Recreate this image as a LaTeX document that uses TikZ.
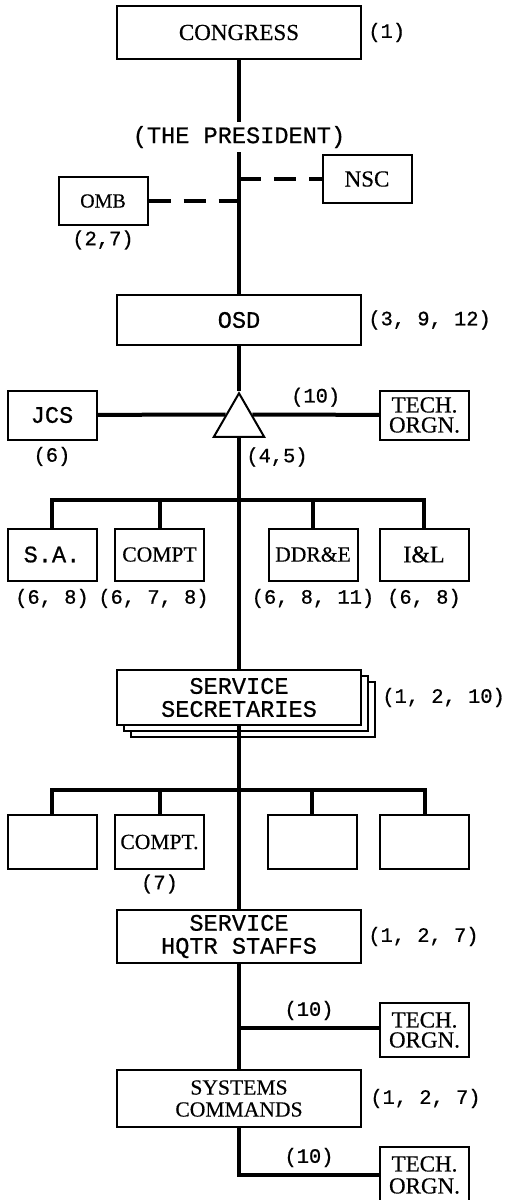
\documentclass[tikz,border=0pt]{standalone}
\usepackage{fontspec}
\setmainfont{Liberation Serif}[FakeBold=0.4]
\setmonofont{Liberation Mono}[FakeBold=0.7]
\usetikzlibrary{positioning,shapes.geometric,shadows}
\newcommand{\boxfont}{\fontsize{10.8}{11}\selectfont}
\newcommand{\typefont}{\ttfamily\fontsize{11.8}{11.5}\selectfont}
\newcommand{\numfont}{\ttfamily\fontsize{10.2}{12}\selectfont}

\begin{document}
\begin{tikzpicture}[
    x=0.5pt, y=-0.5pt,
    every node/.style={align=center},
    orgbox/.style={rectangle, draw, line width=1pt, fill=white, inner sep=0pt, minimum width=122pt, minimum height=26.5pt, font=\boxfont},
    smallbox/.style={rectangle, draw, line width=1pt, fill=white, inner sep=0pt, minimum width=44.5pt, minimum height=26pt, font=\boxfont},
    typed/.style={font=\typefont},
    num/.style={font=\numfont, inner sep=1pt},
    link/.style={line width=2pt},
    dashlink/.style={line width=2pt, dash pattern=on 11pt off 6.5pt}
]
\clip (0,0) rectangle (507,1200);

% Congress and the President
\node[orgbox, font=\fontsize{11.5}{12}\selectfont] (congress) at (239,32.5) {CONGRESS};
\node[num, right=2pt of congress] (congressnum) {(1)};
\node[typed, inner sep=2pt] (president) at (239,137) {(THE PRESIDENT)};

% Staff of the President
\node[smallbox, minimum height=24pt, font=\fontsize{10}{11}\selectfont] (omb) at (103,201) {OMB};
\node[num, below=1pt of omb] (ombnum) {(2,7)};
\node[smallbox, minimum height=24pt, font=\fontsize{11.5}{12}\selectfont] (nsc) at (367,179) {NSC};
\coordinate (nscjoin) at (239,179);
\coordinate (ombjoin) at (239,201);

% OSD
\node[orgbox, typed, minimum height=25pt] (osd) at (239,320) {OSD};
\node[num, right=2pt of osd] (osdnum) {(3, 9, 12)};

% JCS and the triangle
\node[regular polygon, regular polygon sides=3, draw, line width=1pt, minimum size=29pt, inner sep=0pt] (decide) at (239,422.25) {};
\node[smallbox, typed, minimum height=24.5pt] (jcs) at (52,415) {JCS};
\node[num, below=2pt of jcs] (jcsnum) {(6)};
\node[smallbox, font=\fontsize{11.5}{10}\selectfont, minimum height=24.5pt] (techa) at (424.5,415) {TECH.\\ORGN.};
\node[num] (decidenum) at (277,457) {(4,5)};

% OSD staff
\coordinate (busa) at (239,500);
\node[smallbox, typed] (sa) at (52,554.5) {S.A.};
\node[smallbox] (compta) at (159.5,554.5) {COMPT};
\node[smallbox] (ddre) at (313,554.5) {DDR\&E};
\node[smallbox, font=\fontsize{12}{12}\selectfont] (il) at (424,554.5) {I\&L};
\node[num, below=2.5pt of sa] (sanum) {(6, 8)};
\node[num, below=2.5pt of compta, xshift=-3pt] (comptanum) {(6, 7, 8)};
\node[num, below=2.5pt of ddre] (ddrenum) {(6, 8, 11)};
\node[num, below=2.5pt of il] (ilnum) {(6, 8)};

% Service Secretaries
\node[orgbox, typed, minimum height=27.5pt, double copy shadow={shadow xshift=3.5pt, shadow yshift=-3pt}] (ss) at (239,697.5) {SERVICE\\SECRETARIES};
\node[num, right=9pt of ss] (ssnum) {(1, 2, 10)};

% Service staff
\coordinate (busb) at (239,790);
\node[smallbox, minimum height=27pt] (svca) at (52,842) {};
\node[smallbox, minimum height=27pt] (svcompt) at (159.5,842) {COMPT.};
\node[smallbox, minimum height=27pt] (svcc) at (312,842) {};
\node[smallbox, minimum height=27pt] (svcd) at (424.5,842) {};
\node[num, below=1pt of svcompt] (svcomptnum) {(7)};

% Service HQ and Systems Commands
\node[orgbox, typed] (hqtr) at (239,936.5) {SERVICE\\HQTR STAFFS};
\node[num, right=2pt of hqtr] (hqtrnum) {(1, 2, 7)};
\coordinate (brancha) at (239,1028);
\node[smallbox, font=\fontsize{11.5}{10}\selectfont, minimum height=27pt] (techb) at (424.5,1030) {TECH.\\ORGN.};
\node[orgbox, minimum height=28.5pt] (systems) at (239,1098.5) {SYSTEMS\\COMMANDS};
\node[num, right=3pt of systems] (systemsnum) {(1, 2, 7)};
\node[smallbox, font=\fontsize{11.5}{11}\selectfont, minimum height=28pt] (techc) at (424.5,1175) {TECH.\\ORGN.};

% Connections
\draw[link] (congress) -- (president);
\draw[link] (president) -- (osd);
\draw[dashlink] (nscjoin) -- (nsc);
\draw[dashlink] (omb) -- (ombjoin);
\draw[link] (osd) -- (decide);
\draw[link] (jcs) -- (decide.150);
\draw[link] (decide.30) -- node[num, above=2pt] (tena) {(10)} (techa);
\draw[link] (decide) -- (ss);
\draw[link] (sa) |- (busa) -| (il);
\draw[link] (compta) -- (compta |- busa);
\draw[link] (ddre) -- (ddre |- busa);
\draw[link] (ss) -- (hqtr);
\draw[link] (svca) |- (busb) -| (svcd);
\draw[link] (svcompt) -- (svcompt |- busb);
\draw[link] (svcc) -- (svcc |- busb);
\draw[link] (hqtr) -- (systems);
\draw[link] (brancha) -- node[num, above=2pt] (tenb) {(10)} (brancha -| techb.west);
\draw[link] (systems) |- node[num, pos=0.75, above=2pt] (tenc) {(10)} (techc);

\end{tikzpicture}
\end{document}
